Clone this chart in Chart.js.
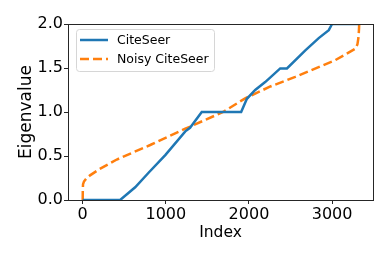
<!DOCTYPE html>
<html>
<head>
<meta charset="utf-8">
<script src="https://cdn.jsdelivr.net/npm/chart.js@4/dist/chart.umd.min.js"></script>
<style>
  body { margin: 0; background: #fff; }
  canvas { display: block; }
</style>
</head>
<body>
<canvas id="myChart" width="390" height="260"></canvas>
<script>
// values
let citeseerIdx = [0, 450, 631, 792, 993, 1234, 1291, 1432, 1906, 1975, 2075, 2195, 2376, 2457, 2678, 2839, 2960, 3000, 3326]
let citeseerVal = [0, 0, 0.144, 0.31, 0.51, 0.78, 0.82, 1.0, 1.0, 1.15, 1.25, 1.34, 1.495, 1.495, 1.70, 1.84, 1.93, 2.0, 2.0]

let noisyIdx = [0, 1, 4, 15, 40, 88, 200, 410, 812, 1234, 1689, 1954, 2257, 2557, 3040, 3281, 3305, 3318, 3324, 3326]
let noisyVal = [0, 0.12, 0.18, 0.21, 0.24, 0.28, 0.35, 0.46, 0.625, 0.81, 1.0, 1.155, 1.29, 1.40, 1.59, 1.72, 1.77, 1.85, 1.95, 2.0]

let xTicks = [0, 1000, 2000, 3000]
let yTicks = [0, 0.5, 1.0, 1.5, 2.0]
let seriesNames = ['CiteSeer', 'Noisy CiteSeer']

const blue = '#1f77b4'
const orange = '#ff7f0e'
const font = 'DejaVu Sans'

const toPoints = (xs, ys) => xs.map((x, i) => ({ x: x, y: ys[i] }))

// box around plot + legend inside the axes, matplotlib style
const boxAndLegend = {
    id: 'boxAndLegend',
    afterDraw(chart) {
        let c = chart.ctx
        let a = chart.chartArea
        c.save()
        c.strokeStyle = '#262626'
        c.lineWidth = 1
        c.strokeRect(Math.round(a.left) + 0.5, Math.round(a.top) + 0.5, Math.round(a.right - a.left), Math.round(a.bottom - a.top))

        // legend
        let lx = 76, ly = 29, lw = 138, lh = 42
        c.beginPath()
        c.roundRect(lx + 0.5, ly + 0.5, lw, lh, 3)
        c.fillStyle = 'rgba(255,255,255,0.8)'
        c.fill()
        c.strokeStyle = '#d6d6d6'
        c.stroke()

        let rows = [
            { y: 40, color: blue, dash: [] },
            { y: 59, color: orange, dash: [9, 4] }
        ]
        rows.forEach((r, i) => {
            c.beginPath()
            c.setLineDash(r.dash)
            c.strokeStyle = r.color
            c.lineWidth = 2.5
            c.moveTo(80, r.y)
            c.lineTo(108, r.y)
            c.stroke()
            c.setLineDash([])
            c.fillStyle = '#000'
            c.font = '12.5px "' + font + '"'
            c.textBaseline = 'middle'
            c.fillText(seriesNames[i], 117, r.y + 1)
        })
        c.restore()
    }
}

let ctx = document.getElementById('myChart').getContext('2d')

let chart = new Chart(ctx, {
    type: 'scatter',
    data: {
        datasets: [{
            label: seriesNames[0],
            data: toPoints(citeseerIdx, citeseerVal),
            showLine: true,
            borderColor: blue,
            borderWidth: 2.5,
            pointRadius: 0,
            tension: 0
        }, {
            label: seriesNames[1],
            data: toPoints(noisyIdx, noisyVal),
            showLine: true,
            borderColor: orange,
            borderWidth: 2.5,
            borderDash: [9, 4],
            pointRadius: 0,
            tension: 0
        }]
    },
    options: {
        responsive: false,
        animation: false,
        layout: { padding: { top: 24, right: 17, left: 0, bottom: 18 } },
        plugins: {
            legend: { display: false },
            tooltip: { enabled: false }
        },
        scales: {
            x: {
                type: 'linear',
                min: -177,
                max: 3492,
                afterBuildTicks: s => { s.ticks = xTicks.map(v => ({ value: v })) },
                afterFit: s => { s.height = 42 },
                grid: { drawOnChartArea: false, tickLength: 4, color: '#262626' },
                border: { color: '#262626' },
                ticks: { color: '#000', font: { family: font, size: 16 }, padding: 1, maxRotation: 0, callback: v => String(v) },
                title: { display: true, text: 'Index', color: '#000', font: { family: font, size: 15.5 }, padding: { top: 0, bottom: 0 } }
            },
            y: {
                min: 0,
                max: 2,
                afterBuildTicks: s => { s.ticks = yTicks.map(v => ({ value: v })) },
                afterFit: s => { s.width = 68 },
                grid: { drawOnChartArea: false, tickLength: 4, color: '#262626' },
                border: { color: '#262626' },
                ticks: { color: '#000', font: { family: font, size: 16 }, padding: 1, callback: v => v.toFixed(1) },
                title: { display: true, text: 'Eigenvalue', color: '#000', font: { family: font, size: 17 }, padding: { top: 16, bottom: 0 } }
            }
        }
    },
    plugins: [boxAndLegend]
})
</script>
</body>
</html>
